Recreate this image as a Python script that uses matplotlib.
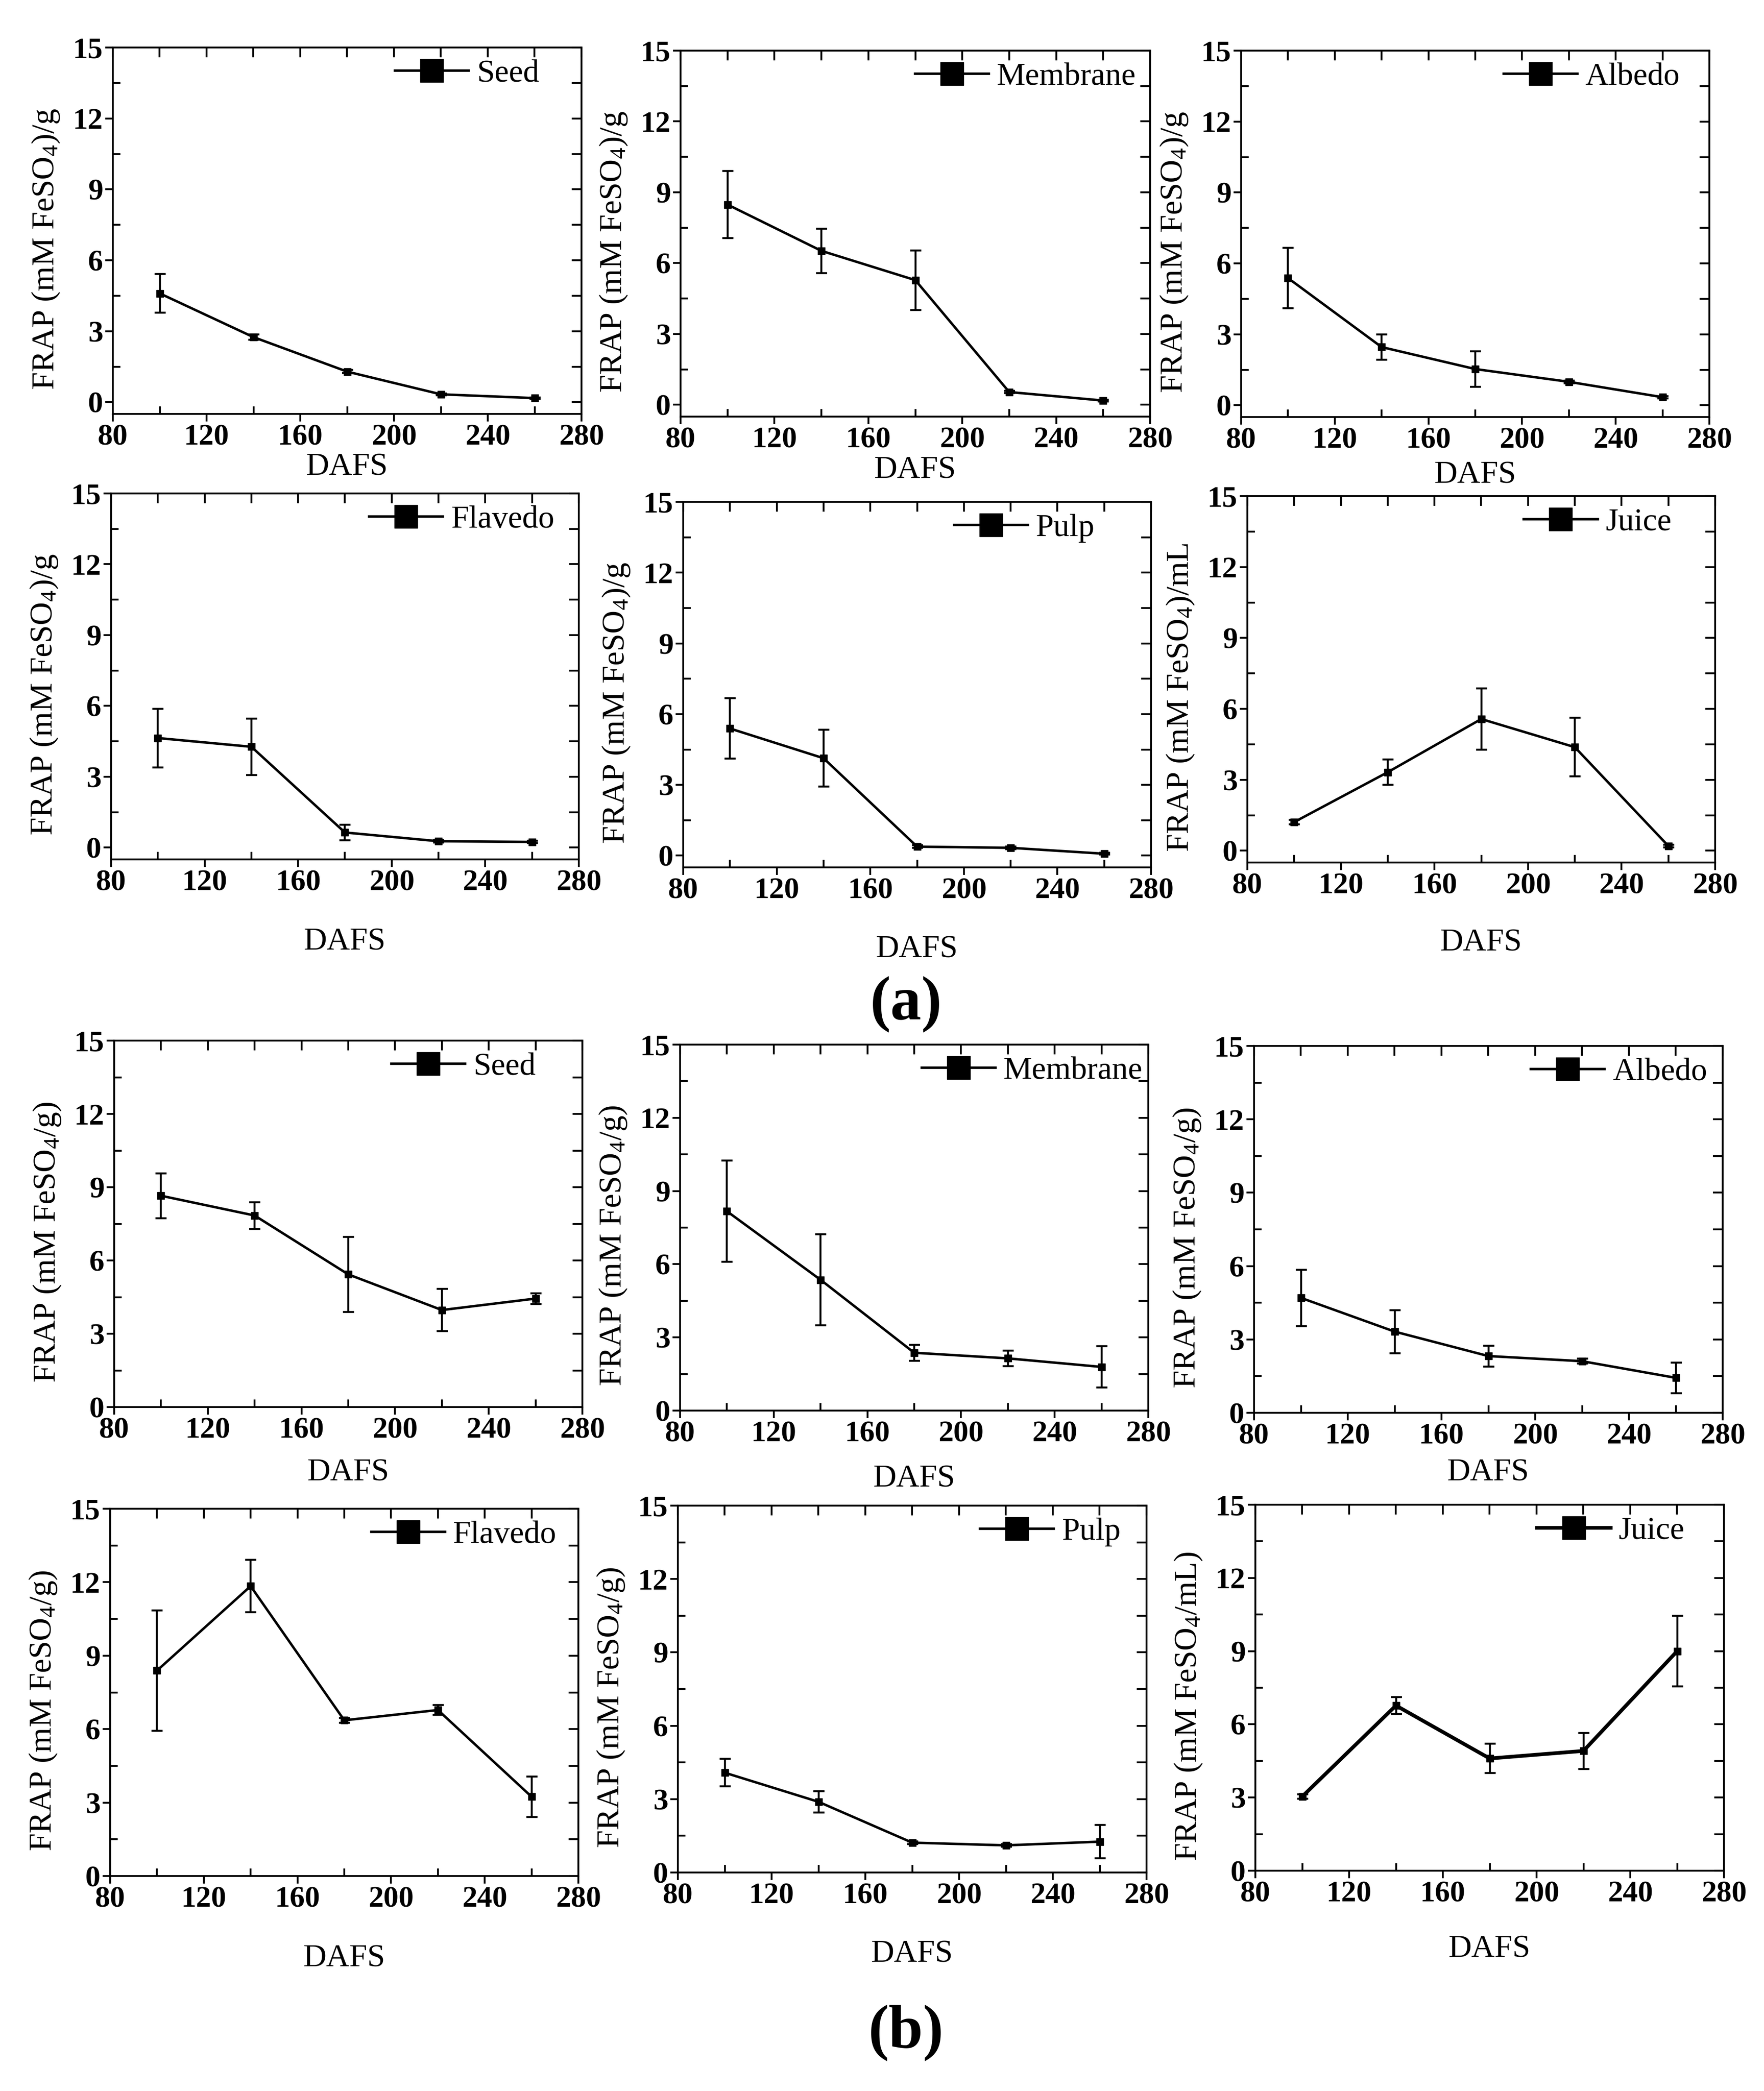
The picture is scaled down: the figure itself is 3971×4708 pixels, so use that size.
import matplotlib
matplotlib.use("Agg")
import matplotlib.pyplot as plt
from matplotlib.lines import Line2D
from matplotlib.ticker import MultipleLocator

plt.rcParams['font.family'] = ['Liberation Serif', 'DejaVu Serif']
plt.rcParams['mathtext.fontset'] = 'custom'
plt.rcParams['mathtext.rm'] = 'Liberation Serif'
plt.rcParams['mathtext.it'] = 'Liberation Serif:italic'
plt.rcParams['mathtext.bf'] = 'Liberation Serif:bold'

dafs = [100, 140, 180, 220, 260]
tissues = ['Seed', 'Membrane', 'Albedo', 'Flavedo', 'Pulp', 'Juice']

# (a) FRAP values and standard deviations
a_seed = [4.60, 2.75, 1.29, 0.33, 0.17]
a_seed_err = [0.82, 0.12, 0.07, 0.04, 0.03]
a_membrane = [8.48, 6.52, 5.28, 0.54, 0.18]
a_membrane_err = [1.42, 0.94, 1.26, 0.05, 0.04]
a_albedo = [5.38, 2.46, 1.53, 0.99, 0.34]
a_albedo_err = [1.27, 0.53, 0.76, 0.06, 0.05]
a_flavedo = [4.64, 4.27, 0.64, 0.27, 0.24]
a_flavedo_err = [1.24, 1.20, 0.33, 0.05, 0.05]
a_pulp = [5.39, 4.13, 0.38, 0.33, 0.08]
a_pulp_err = [1.28, 1.20, 0.06, 0.06, 0.04]
a_juice = [1.21, 3.32, 5.57, 4.38, 0.20]
a_juice_err = [0.10, 0.54, 1.29, 1.24, 0.06]

# (b)
b_seed = [8.65, 7.84, 5.43, 3.97, 4.44]
b_seed_err = [0.92, 0.55, 1.53, 0.86, 0.22]
b_membrane = [8.17, 5.36, 2.37, 2.14, 1.79]
b_membrane_err = [2.07, 1.87, 0.33, 0.32, 0.85]
b_albedo = [4.70, 3.32, 2.32, 2.11, 1.43]
b_albedo_err = [1.15, 0.88, 0.43, 0.10, 0.63]
b_flavedo = [8.39, 11.84, 6.36, 6.78, 3.24]
b_flavedo_err = [2.46, 1.07, 0.10, 0.20, 0.82]
b_pulp = [4.08, 2.89, 1.22, 1.11, 1.26]
b_pulp_err = [0.56, 0.44, 0.06, 0.06, 0.68]
b_juice = [3.04, 6.77, 4.60, 4.91, 9.00]
b_juice_err = [0.10, 0.34, 0.60, 0.74, 1.45]

a_series = [(a_seed, a_seed_err), (a_membrane, a_membrane_err), (a_albedo, a_albedo_err),
            (a_flavedo, a_flavedo_err), (a_pulp, a_pulp_err), (a_juice, a_juice_err)]
b_series = [(b_seed, b_seed_err), (b_membrane, b_membrane_err), (b_albedo, b_albedo_err),
            (b_flavedo, b_flavedo_err), (b_pulp, b_pulp_err), (b_juice, b_juice_err)]

a_ylabels = [r'FRAP (mM FeSO$_4$)/g'] * 5 + [r'FRAP (mM FeSO$_4$)/mL']
b_ylabels = [r'FRAP (mM FeSO$_4$/g)'] * 5 + [r'FRAP (mM FeSO$_4$/mL)']

# layout in pixels: left, right, top, bottom
W, H = 3971, 4708
boxes = [
    (254, 1309, 107, 932), (1532, 2589, 114, 938), (2794, 3848, 114, 939),
    (250, 1303, 1111, 1935), (1538, 2591, 1130, 1953), (2808, 3861, 1117, 1942),
    (257, 1311, 2343, 3168), (1531, 2585, 2352, 3176), (2823, 3878, 2355, 3181),
    (248, 1302, 3397, 4224), (1526, 2581, 3390, 4216), (2826, 3881, 3388, 4212),
]
xlab_off = [120, 121, 131, 186, 185, 181, 148, 154, 135, 186, 184, 177]
leg_x = [0.91, 0.97, 0.937, 0.948, 0.88, 0.907, 0.90, 0.988, 0.967, 0.953, 0.945, 0.916]

fig = plt.figure(figsize=(W / 100, H / 100), dpi=100)

TICK_FS = 49
LAB_FS = 52

all_series = a_series + b_series
all_ylabels = a_ylabels + b_ylabels
all_names = tissues + tissues

for i, (box, (vals, errs)) in enumerate(zip(boxes, all_series)):
    l, r, t, b = box
    ax = fig.add_axes([l / W, 1 - b / H, (r - l) / W, (b - t) / H])
    lw = 6 if i == 11 else 4
    ax.errorbar(dafs, vals, yerr=errs, color='black', lw=lw, marker='s', ms=12,
                elinewidth=3.2, capsize=9, capthick=3.2)
    ax.set_xlim(80, 280)
    ax.set_ylim(-0.5 if i < 6 else 0, 15)
    ax.xaxis.set_major_locator(MultipleLocator(40))
    ax.xaxis.set_minor_locator(MultipleLocator(20))
    ax.yaxis.set_major_locator(MultipleLocator(3))
    ax.yaxis.set_minor_locator(MultipleLocator(1.5))
    for s in ax.spines.values():
        s.set_linewidth(3)
    ax.tick_params(which='major', direction='out', length=12, width=3,
                   labelsize=TICK_FS, pad=4)
    ax.tick_params(which='minor', direction='in', length=12, width=3)
    for lab in ax.get_xticklabels() + ax.get_yticklabels():
        lab.set_fontweight('bold')

    # inward ticks on top and right
    top = ax.secondary_xaxis('top')
    top.xaxis.set_major_locator(MultipleLocator(20))
    top.tick_params(direction='in', length=16, width=3, labeltop=False)
    right = ax.secondary_yaxis('right')
    right.yaxis.set_major_locator(MultipleLocator(1.5))
    right.tick_params(direction='in', length=16, width=3, labelright=False)

    ax.set_ylabel(all_ylabels[i], fontsize=LAB_FS)
    ax.yaxis.set_label_coords(-0.11, 0.45)
    ax.set_xlabel('DAFS', fontsize=LAB_FS)
    ax.xaxis.set_label_coords(0.5, -xlab_off[i] / (b - t))
    ax.xaxis.label.set_verticalalignment('center')

    handle = Line2D([], [], color='black', lw=lw, marker='s', ms=38)
    ax.legend([handle], [all_names[i]], loc='center right',
              bbox_to_anchor=(leg_x[i], 0.928), frameon=False,
              fontsize=LAB_FS, handlelength=2.3, handletextpad=0.25,
              borderpad=0, borderaxespad=0)

fig.text(2040 / W, 1 - 2262 / H, '(a)', fontsize=100, fontweight='bold',
         ha='center', va='center')
fig.text(2040 / W, 1 - 4578 / H, '(b)', fontsize=100, fontweight='bold',
         ha='center', va='center')

fig.savefig('out.png', dpi=100, facecolor='white')
